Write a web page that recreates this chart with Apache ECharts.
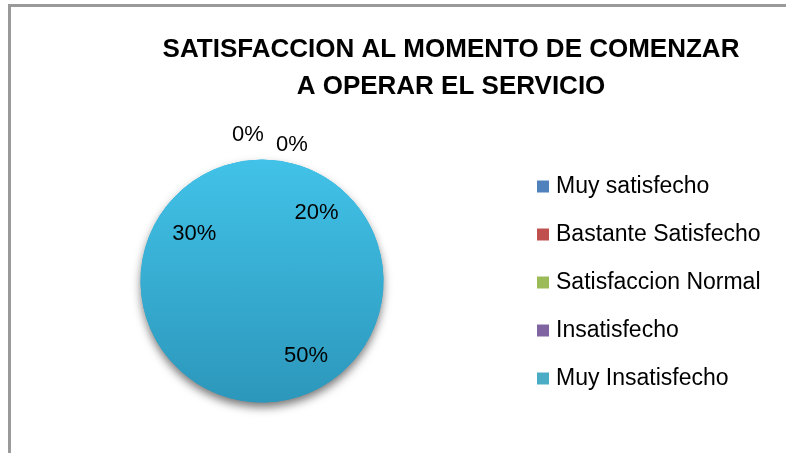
<!DOCTYPE html>
<html>
<head>
<meta charset="utf-8">
<script src="https://cdn.jsdelivr.net/npm/echarts@6/dist/echarts.min.js"></script>
<style>
  html, body { margin: 0; padding: 0; background: #fff; }
  #frame { position: absolute; left: 8px; top: 4px; width: 790px; height: 460px;
           border-left: 3px solid #9a9a9a; border-top: 3px solid #9a9a9a; }
  #chart { position: absolute; left: 0; top: 0; width: 786px; height: 453px; }
</style>
</head>
<body>
<div id="frame"></div>
<div id="chart"></div>
<script>
// datos
const categories = ['Muy satisfecho', 'Bastante Satisfecho', 'Satisfaccion Normal', 'Insatisfecho', 'Muy Insatisfecho'];
const percentages = [0, 0, 20, 50, 30];
const legendColors = ['#4f81bd', '#c0504d', '#9bbb59', '#8064a2', '#4bacc6'];

const center = [262, 281];
const radius = 121;
// ajuste fino de etiquetas (dx, dy); las de 0% van respecto al centro
const labelOffsets = [[-14, -146], [30, -136], [3, 3], [17, -8], [3, 4]];

const chartDom = document.getElementById('chart');
const pieChart = echarts.init(chartDom);

const pieData = categories.map((name, i) => ({ name: name, value: percentages[i] }));

const fill = new echarts.graphic.LinearGradient(0, center[1] - radius, 0, center[1] + radius, [
  { offset: 0, color: '#42c2e8' },
  { offset: 1, color: '#2c97bb' },
], true);

const font = 'Liberation Sans, Arial, sans-serif';

const option = {
  title: {
    text: 'SATISFACCION AL MOMENTO DE COMENZAR\nA OPERAR EL SERVICIO',
    left: 446,
    top: 26,
    textAlign: 'center',
    textStyle: {
      fontFamily: font,
      fontWeight: 'bold',
      fontSize: 26,
      lineHeight: 37,
      color: '#000',
    },
  },
  legend: {
    orient: 'vertical',
    left: 532,
    top: 170,
    itemGap: 25,
    itemWidth: 12,
    itemHeight: 12,
    icon: 'rect',
    selectedMode: false,
    data: categories.map((name, i) => ({ name: name, itemStyle: { color: legendColors[i] } })),
    textStyle: {
      fontFamily: font,
      fontSize: 23,
      color: '#000',
      padding: [0, 0, 0, 2],
    },
  },
  series: [
    {
      // sombra
      type: 'pie',
      z: 1,
      center: center,
      radius: radius,
      startAngle: 90,
      silent: true,
      label: { show: false },
      labelLine: { show: false },
      data: pieData,
      itemStyle: {
        color: '#2c97bb',
        shadowBlur: 10,
        shadowOffsetY: 5,
        shadowColor: 'rgba(0,0,0,0.55)',
      },
    },
    {
      // pastel
      type: 'pie',
      z: 2,
      center: center,
      radius: radius,
      startAngle: 90,
      silent: true,
      label: { show: false },
      labelLine: { show: false },
      data: pieData,
      itemStyle: {
        color: fill,
        borderColor: fill,
        borderWidth: 1,
      },
    },
    {
      // etiquetas
      type: 'pie',
      z: 3,
      center: center,
      radius: [48, radius],
      startAngle: 90,
      silent: true,
      avoidLabelOverlap: false,
      itemStyle: { color: 'rgba(0,0,0,0)', borderWidth: 0 },
      labelLine: { show: false },
      label: {
        show: true,
        position: 'inside',
        formatter: '{d}%',
        fontFamily: font,
        fontSize: 22,
        color: '#000',
      },
      labelLayout: (params) => {
        const off = labelOffsets[params.dataIndex];
        if (percentages[params.dataIndex] === 0) {
          return { x: center[0] + off[0], y: center[1] + off[1], align: 'center', verticalAlign: 'middle' };
        }
        return { dx: off[0], dy: off[1] };
      },
      data: pieData,
    },
  ],
};

pieChart.setOption(option);
window.addEventListener('resize', () => {
  pieChart.resize();
});
</script>
</body>
</html>
